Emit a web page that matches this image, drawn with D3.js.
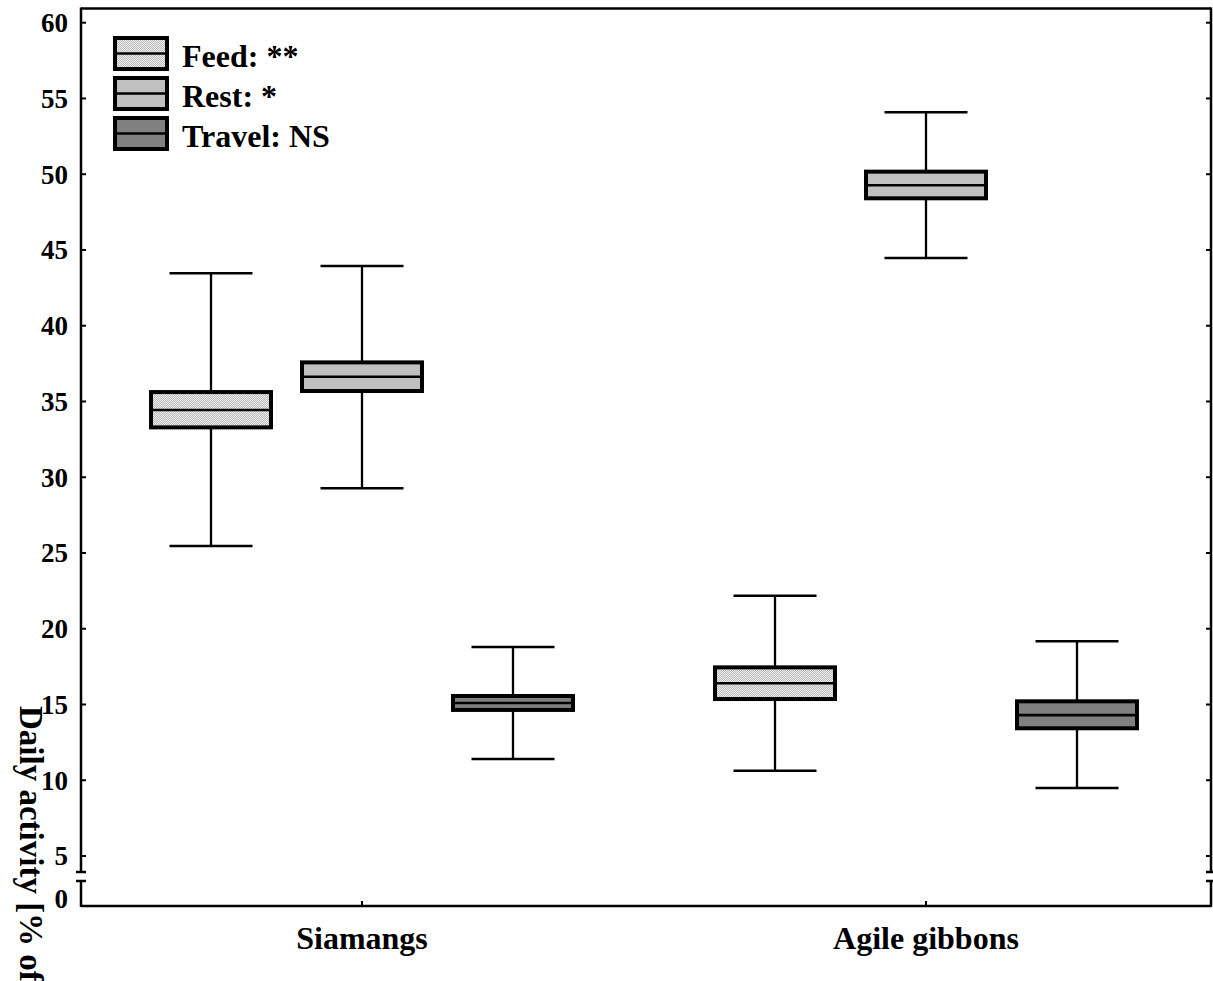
<!DOCTYPE html>
<html>
<head>
<meta charset="utf-8">
<script src="https://cdn.jsdelivr.net/npm/d3@7"></script>
<style>
  html, body { margin: 0; padding: 0; background: #fff; overflow: hidden; }
  svg text { font-family: "Liberation Serif", "Times New Roman", serif; font-weight: bold; fill: #000; }
</style>
</head>
<body>
<div id="chart"></div>
<script>
// categories and series
const categories = ['Siamangs', 'Agile gibbons'];
const series = ['Feed', 'Rest', 'Travel'];
const legendLabels = ['Feed: **', 'Rest: *', 'Travel: NS'];

// box statistics, one value per category
const feedMin = [25.46, 10.63];
const feedQ1 = [33.29, 15.36];
const feedMed = [34.44, 16.40];
const feedQ3 = [35.62, 17.45];
const feedMax = [43.46, 22.18];

const restMin = [29.27, 44.47];
const restQ1 = [35.69, 48.41];
const restMed = [36.63, 49.27];
const restQ3 = [37.58, 50.17];
const restMax = [43.94, 54.09];

const travelMin = [11.40, 9.49];
const travelQ1 = [14.64, 13.43];
const travelMed = [15.10, 14.30];
const travelQ3 = [15.56, 15.21];
const travelMax = [18.79, 19.17];

// tick labels
const yTicks = [5, 10, 15, 20, 25, 30, 35, 40, 45, 50, 55, 60];
const yBreakTick = 0;

const stats = {
    Feed: { min: feedMin, q1: feedQ1, med: feedMed, q3: feedQ3, max: feedMax },
    Rest: { min: restMin, q1: restQ1, med: restMed, q3: restQ3, max: restMax },
    Travel: { min: travelMin, q1: travelQ1, med: travelMed, q3: travelQ3, max: travelMax }
};

const width = 1213, height = 981;
const plotLeft = 81, plotRight = 1211, plotTop = 8.5, plotBottom = 906;

const svg = d3.select('#chart').append('svg')
    .attr('width', width)
    .attr('height', height);

// fine hatch pattern for Feed
const defs = svg.append('defs');
const hatch = defs.append('pattern')
    .attr('id', 'hatch')
    .attr('patternUnits', 'userSpaceOnUse')
    .attr('width', 2)
    .attr('height', 2);
hatch.append('rect').attr('width', 2).attr('height', 2).attr('fill', '#ececec');
hatch.append('path')
    .attr('d', 'M-0.5,0.5 l1,-1 M0,2 l2,-2 M1.5,2.5 l1,-1')
    .attr('stroke', '#b0b0b0')
    .attr('stroke-width', 0.8);

const fills = { Feed: 'url(#hatch)', Rest: '#c0c0c0', Travel: '#808080' };

// scales
const y = d3.scaleLinear().domain([5, 60]).range([856, 22.7]);
const x = d3.scaleBand().domain(categories).range([80, 1208]);
const xSub = d3.scalePoint().domain(series).range([-151, 151]);
const boxW = 120, capW = 83;

// frame with axis break
const frame = svg.append('g').attr('stroke', '#000').attr('stroke-width', 2.5).attr('fill', 'none');
frame.append('line').attr('x1', plotLeft).attr('x2', plotRight).attr('y1', plotTop).attr('y2', plotTop);
frame.append('line').attr('x1', plotLeft).attr('x2', plotRight).attr('y1', plotBottom).attr('y2', plotBottom);
[plotLeft, plotRight].forEach(ax => {
    frame.append('line').attr('x1', ax).attr('x2', ax).attr('y1', plotTop - 1).attr('y2', 872);
    frame.append('line').attr('x1', ax).attr('x2', ax).attr('y1', 881).attr('y2', plotBottom + 1);
    frame.append('line').attr('x1', ax - 5).attr('x2', ax + 5).attr('y1', 872).attr('y2', 872);
    frame.append('line').attr('x1', ax - 5).attr('x2', ax + 5).attr('y1', 881).attr('y2', 881);
});

// y axis ticks (inward) and labels
const yAxis = svg.append('g');
yTicks.forEach(t => {
    yAxis.append('line')
        .attr('x1', plotLeft).attr('x2', plotLeft + 5)
        .attr('y1', y(t)).attr('y2', y(t))
        .attr('stroke', '#000').attr('stroke-width', 2);
    yAxis.append('line')
        .attr('x1', plotRight - 5).attr('x2', plotRight)
        .attr('y1', y(t)).attr('y2', y(t))
        .attr('stroke', '#000').attr('stroke-width', 2);
    yAxis.append('text')
        .attr('x', 68)
        .attr('y', y(t))
        .attr('dy', '0.35em')
        .attr('text-anchor', 'end')
        .style('font-size', '27px')
        .text(t);
});
yAxis.append('text')
    .attr('x', 68)
    .attr('y', 899)
    .attr('dy', '0.35em')
    .attr('text-anchor', 'end')
    .style('font-size', '27px')
    .text(yBreakTick);

// x axis ticks and labels
categories.forEach(c => {
    const cx = x(c) + x.bandwidth() / 2;
    svg.append('line')
        .attr('x1', cx).attr('x2', cx)
        .attr('y1', plotBottom).attr('y2', plotBottom - 5)
        .attr('stroke', '#000').attr('stroke-width', 2);
    svg.append('text')
        .attr('x', cx)
        .attr('y', 949)
        .attr('text-anchor', 'middle')
        .style('font-size', '32px')
        .text(c);
});

// y title (runs off the page bottom as in the original)
svg.append('text')
    .attr('transform', 'translate(20,706) rotate(90)')
    .style('font-size', '33px')
    .text('Daily activity [% of day]');

// box plots
const boxes = svg.append('g');
categories.forEach((c, ci) => {
    series.forEach(s => {
        const cx = x(c) + x.bandwidth() / 2 + xSub(s);
        const st = stats[s];
        const g = boxes.append('g');

        // whiskers
        g.append('line')
            .attr('x1', cx).attr('x2', cx)
            .attr('y1', y(st.max[ci])).attr('y2', y(st.min[ci]))
            .attr('stroke', '#000').attr('stroke-width', 2.3);
        [st.max[ci], st.min[ci]].forEach(v => {
            g.append('line')
                .attr('x1', cx - capW / 2).attr('x2', cx + capW / 2)
                .attr('y1', y(v)).attr('y2', y(v))
                .attr('stroke', '#000').attr('stroke-width', 2.5);
        });

        // box halves with thin gray edge
        [[st.q3[ci], st.med[ci]], [st.med[ci], st.q1[ci]]].forEach(([hi, lo]) => {
            g.append('rect')
                .attr('x', cx - boxW / 2)
                .attr('y', y(hi))
                .attr('width', boxW)
                .attr('height', y(lo) - y(hi))
                .attr('fill', fills[s])
                .attr('stroke', '#6e6e6e')
                .attr('stroke-width', 1.2);
        });
        g.append('rect')
            .attr('x', cx - boxW / 2)
            .attr('y', y(st.q3[ci]))
            .attr('width', boxW)
            .attr('height', y(st.q1[ci]) - y(st.q3[ci]))
            .attr('fill', 'none')
            .attr('stroke', '#000')
            .attr('stroke-width', 4);
        g.append('line')
            .attr('x1', cx - boxW / 2).attr('x2', cx + boxW / 2)
            .attr('y1', y(st.med[ci])).attr('y2', y(st.med[ci]))
            .attr('stroke', '#000').attr('stroke-width', 2.6);
    });
});

// legend
const legend = svg.append('g').attr('transform', 'translate(115,38)');
series.forEach((s, i) => {
    const row = legend.append('g').attr('transform', `translate(0,${i * 40})`);
    row.append('rect')
        .attr('width', 52).attr('height', 31)
        .attr('fill', fills[s])
        .attr('stroke', '#000').attr('stroke-width', 4);
    row.append('line')
        .attr('x1', 0).attr('x2', 52)
        .attr('y1', 15.5).attr('y2', 15.5)
        .attr('stroke', '#000').attr('stroke-width', 2.6);
    row.append('text')
        .attr('x', 67)
        .attr('y', 29)
        .style('font-size', '32px')
        .text(legendLabels[i]);
});
</script>
</body>
</html>
